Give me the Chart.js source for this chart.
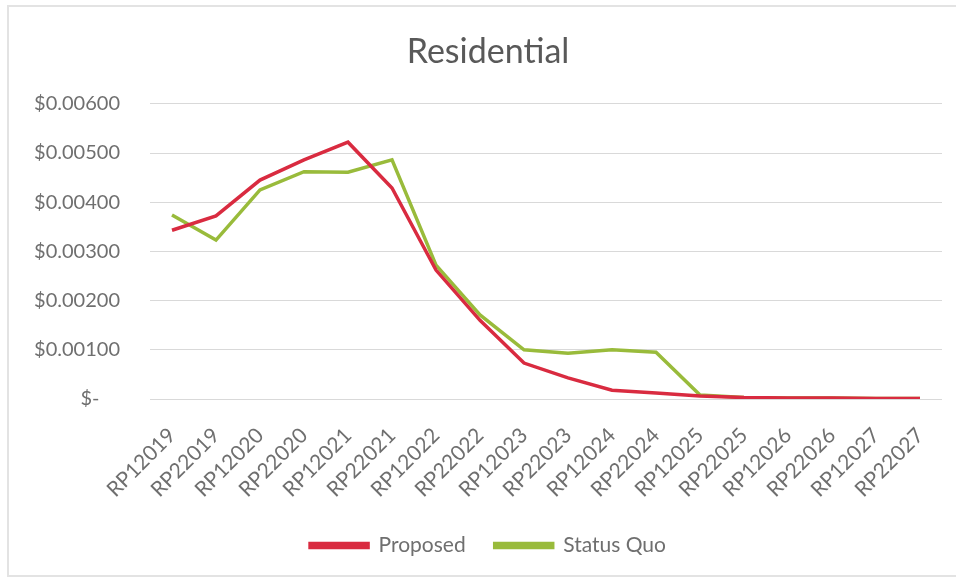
<!DOCTYPE html>
<html><head><meta charset="utf-8">
<script src="https://cdn.jsdelivr.net/npm/chart.js@4/dist/chart.umd.min.js"></script>
<style>
html,body{margin:0;padding:0;background:#fff;}
#frame{position:absolute;left:7px;top:5px;width:960px;height:572px;border:2px solid #e3e3e3;box-sizing:border-box;}
#wrap{position:absolute;left:0;top:0;width:956px;height:581px;}
</style></head>
<body>
<div id="frame"></div>
<div id="wrap"><canvas id="c" width="956" height="581"></canvas></div>
<script>
const categories = ["RP12019","RP22019","RP12020","RP22020","RP12021","RP22021","RP12022","RP22022","RP12023","RP22023","RP12024","RP22024","RP12025","RP22025","RP12026","RP22026","RP12027","RP22027"];
const proposed = [0.00343,0.00372,0.00445,0.00486,0.00522,0.00429,0.00262,0.00160,0.00073,0.00043,0.00018,0.00012,0.00006,0.00003,0.00002,0.00002,0.00001,0.00001];
const statusQuo = [0.00374,0.00323,0.00425,0.00462,0.00461,0.00486,0.00272,0.00171,0.00100,0.00093,0.00100,0.00095,0.00008,0.00003,0.00002,0.00002,0.00001,0.00001];
const yTicks = [0,0.001,0.002,0.003,0.004,0.005,0.006];

const FONT = "Lato, 'Open Sans', sans-serif";
const TXT = '#6f6f6f';
new Chart(document.getElementById('c'), {
  type: 'line',
  data: {
    labels: categories,
    datasets: [
      {label:'Proposed', data: proposed, borderColor:'#d92b40', backgroundColor:'#d92b40', borderWidth:3.5, pointRadius:0, tension:0},
      {label:'Status Quo', data: statusQuo, borderColor:'#99bb3b', backgroundColor:'#99bb3b', borderWidth:3.5, pointRadius:0, tension:0}
    ]
  },
  options: {
    responsive:false, animation:false,
    layout:{padding:{left:34,right:14,top:0,bottom:15}},
    plugins:{
      title:{display:true, text:'Residential', color:'#595959', font:{family:FONT,size:34,weight:'normal'}, padding:{top:32,bottom:31}},
      legend:{position:'bottom', labels:{color:TXT, font:{family:FONT,size:21}, boxWidth:58, boxHeight:4, padding:29}},
      tooltip:{enabled:false}
    },
    scales:{
      x:{
        offset:true,
        grid:{display:false, drawTicks:false},
        border:{display:false},
        ticks:{color:TXT, font:{family:FONT,size:21}, minRotation:45, maxRotation:45, padding:24, autoSkip:false},
        afterFit(s){ s.height = 107; s.paddingRight = 0; s.paddingLeft = 0; }
      },
      y:{
        min:0, max:0.006,
        afterBuildTicks(s){ s.ticks = yTicks.map(v=>({value:v})); },
        grid:{color:'#d9d9d9', lineWidth:1, drawTicks:false},
        border:{display:false},
        ticks:{color:TXT, font:{family:FONT,size:20}, padding:30,
          callback(v){ return v===0 ? '$-    ' : '$' + Number(v).toFixed(5); }},
        afterFit(s){ s.width = 116; }
      }
    }
  }
});
</script>
</body></html>
